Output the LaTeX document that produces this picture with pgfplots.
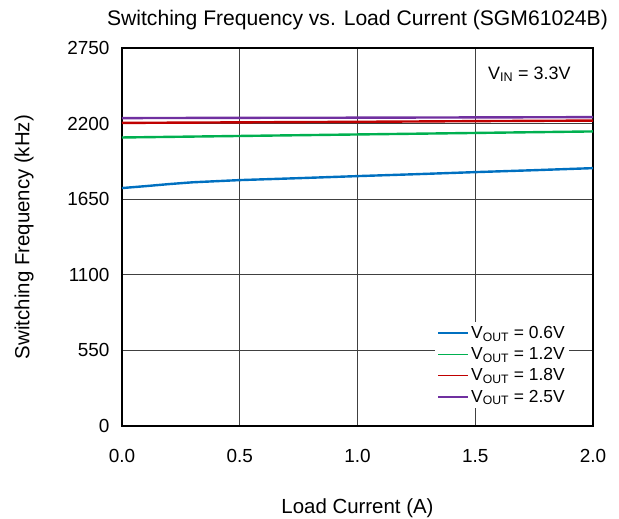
\documentclass[border=0pt]{standalone}
\usepackage{pgfplots}
\pgfplotsset{compat=1.18}
\usepackage{fontspec}
\setmainfont{Liberation Sans}
\definecolor{cblue}{RGB}{0,112,192}
\definecolor{cgreen}{RGB}{0,176,80}
\definecolor{cred}{RGB}{192,0,0}
\definecolor{cpurple}{RGB}{112,48,160}
\begin{document}
\begin{tikzpicture}
\path[use as bounding box] (-122bp,-93bp) rectangle (497bp,426bp);
\begin{axis}[
  at={(0,0)}, anchor=south west,
  scale only axis, width=471bp, height=378bp,
  xmin=0, xmax=2, ymin=0, ymax=2750,
  xtick={0,0.5,1,1.5,2}, ytick={0,550,1100,1650,2200,2750},
  xticklabels={0.0,0.5,1.0,1.5,2.0},
  yticklabels={0,550,1100,1650,2200,2750},
  tick style={draw=none},
  grid=major,
  major grid style={black!75, line width=0.8bp},
  axis line style={black, line width=1.6bp},
  ticklabel style={font=\fontsize{19}{22}\selectfont},
  xticklabel style={yshift=-20bp},
  yticklabel style={xshift=-9bp},
  xlabel={Load Current (A)},
  ylabel={Switching Frequency (kHz)},
  label style={font=\fontsize{20.5}{24}\selectfont},
  xlabel style={at={(axis description cs:0.5,0)}, anchor=center, yshift=-82bp},
  ylabel style={at={(axis description cs:-0.208,0.5)}, anchor=center},
  title={Switching Frequency vs. Load Current (SGM61024B)},
  title style={font=\fontsize{21.2}{24}\selectfont, at={(axis description cs:0.5,1)}, anchor=center, yshift=22bp},
  legend style={at={(axis cs:1.33,755)}, anchor=north west, draw=none, fill=white,
    font=\fontsize{17.5}{20}\selectfont, row sep=3.5bp, inner sep=2bp},
  legend cell align=left,
  legend image code/.code={\draw[#1, line width=1.8bp] (0bp,0bp) -- (30bp,0bp);},
  every axis plot/.append style={line width=2.4bp},
]
\addplot[cblue] coordinates {(0,1731)(0.1,1745)(0.2,1760)(0.3,1773)(0.4,1781)(0.5,1789)(0.75,1803)(1.0,1818)(1.25,1832)(1.5,1847)(1.75,1861)(2.0,1876)};
\addlegendentry{V\textsubscript{OUT} = 0.6V}
\addplot[cgreen] coordinates {(0,2099)(0.5,2110)(1.0,2121)(1.5,2132)(2.0,2143)};
\addlegendentry{V\textsubscript{OUT} = 1.2V}
\addplot[cred] coordinates {(0,2205)(0.5,2209)(1.0,2213)(1.5,2218)(2.0,2222)};
\addlegendentry{V\textsubscript{OUT} = 1.8V}
\addplot[cpurple] coordinates {(0,2240)(0.5,2242)(1.0,2243)(1.5,2245)(2.0,2247)};
\addlegendentry{V\textsubscript{OUT} = 2.5V}
\node[anchor=west, font=\fontsize{18}{21}\selectfont] at (axis cs:1.54,2560) {V\textsubscript{IN} = 3.3V};
\end{axis}
\end{tikzpicture}
\end{document}
